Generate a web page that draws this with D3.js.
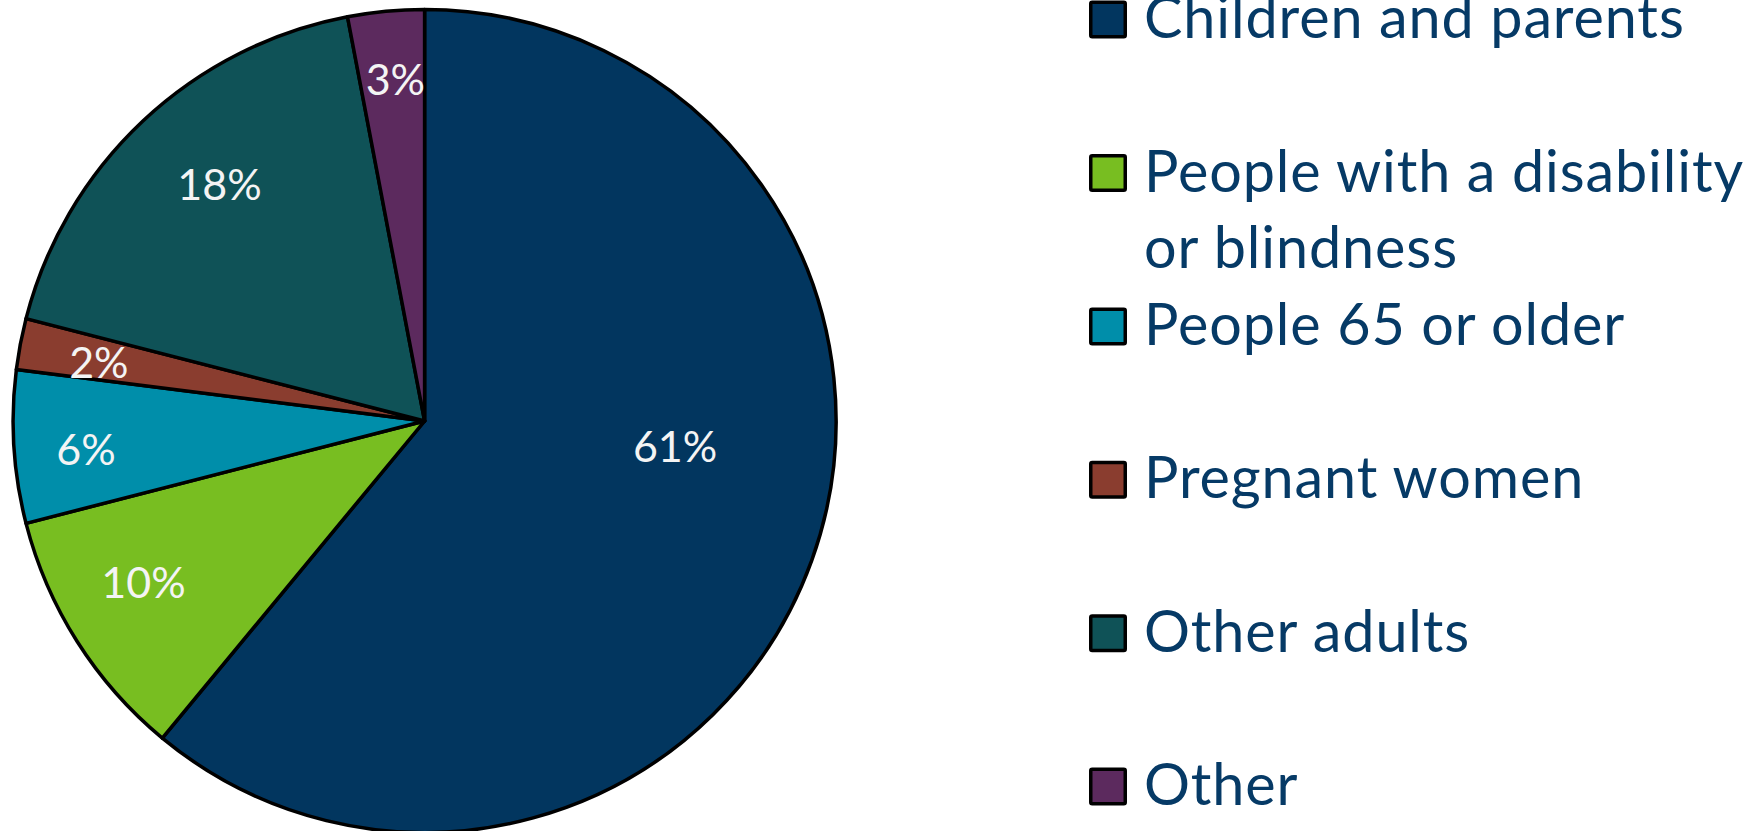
<!DOCTYPE html>
<html>
<head>
<meta charset="utf-8">
<script src="https://cdn.jsdelivr.net/npm/d3@7"></script>
<style>
  html, body { margin: 0; padding: 0; background: #ffffff; }
  svg { display: block; }
</style>
</head>
<body>
<svg id="chart" width="1751" height="831"></svg>
<script>
// Share of enrollees by eligibility group
const categories = [
  "Children and parents",
  "People with a disability or blindness",
  "People 65 or older",
  "Pregnant women",
  "Other adults",
  "Other"
];
const legendLines = [
  ["Children and parents"],
  ["People with a disability", "or blindness"],
  ["People 65 or older"],
  ["Pregnant women"],
  ["Other adults"],
  ["Other"]
];
const shares = [61, 10, 6, 2, 18, 3];
const sliceColors = ["#02365F", "#78BE21", "#008EAA", "#8A3D2F", "#0F5257", "#5C2A5E"];

// Label placement inside each slice: fraction of radius and angle nudge (degrees)
const labelRadius = [0.612, 0.788, 0.826, 0.804, 0.76, 0.832];
const labelNudge = [-13.9, 2.5, -1.2, -0.7, 2.2, 0.5];

const svg = d3.select("#chart");
const cx = 424.6, cy = 421, R = 411.5;

const pie = d3.pie().sort(null).value(d => d).startAngle(0).endAngle(2 * Math.PI);
const arcs = pie(shares);
const arc = d3.arc().innerRadius(0).outerRadius(R);

const g = svg.append("g").attr("transform", `translate(${cx},${cy})`);

g.selectAll("path.slice")
  .data(arcs)
  .join("path")
  .attr("class", "slice")
  .attr("d", arc)
  .attr("fill", (d, i) => sliceColors[i])
  .attr("stroke", "#000")
  .attr("stroke-width", 3.5)
  .attr("stroke-linejoin", "round");

const pct = d3.format(".0%");
g.selectAll("text.pct")
  .data(arcs)
  .join("text")
  .attr("class", "pct")
  .attr("transform", (d, i) => {
    const mid = (d.startAngle + d.endAngle) / 2 + labelNudge[i] * Math.PI / 180;
    const rr = labelRadius[i] * R;
    const p = d3.arc().innerRadius(rr).outerRadius(rr).centroid({startAngle: mid, endAngle: mid});
    return `translate(${p[0]},${p[1]})`;
  })
  .attr("text-anchor", "middle")
  .attr("dy", "0.36em")
  .attr("fill", "#F4F4F4")
  .style("font-family", "Lato, 'Open Sans', sans-serif")
  .style("font-size", "43px")
  .text(d => pct(d.data / 100));

// Legend
const swatch = 38;
const legendX = 1089;
const textX = 1144;
const lineGap = 76.7;
const legendY = d3.scalePoint().domain(categories).range([0.6, 767.6]);

const leg = svg.append("g");
const items = leg.selectAll("g.item")
  .data(categories)
  .join("g")
  .attr("class", "item")
  .attr("transform", d => `translate(0,${legendY(d)})`);

items.append("rect")
  .attr("x", legendX + 1.75)
  .attr("y", 1.75)
  .attr("width", swatch - 3.5)
  .attr("height", swatch - 3.5)
  .attr("rx", 1.5)
  .attr("fill", (d, i) => sliceColors[i])
  .attr("stroke", "#000")
  .attr("stroke-width", 3.5);

items.append("text")
  .attr("x", textX)
  .attr("y", swatch - 0.5)
  .attr("fill", "#063A66")
  .style("font-family", "Lato, 'Open Sans', sans-serif")
  .style("font-size", "57.5px")
  .style("letter-spacing", "0.9px")
  .selectAll("tspan")
  .data((d, i) => legendLines[i])
  .join("tspan")
  .attr("x", textX)
  .attr("dy", (d, j) => j === 0 ? 0 : lineGap)
  .text(d => d);
</script>
</body>
</html>
